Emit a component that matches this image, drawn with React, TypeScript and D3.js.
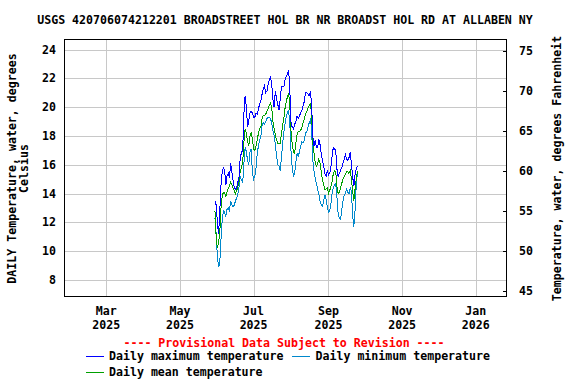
import React from 'react';
import * as d3 from 'd3';

// daily values from 2025-05-30, one per day
const startDay = new Date(2025, 4, 30);
const maxTemp = [
  13.5, 13.2, 12.0, 11.2, 12.8, 14.6, 15.5, 15.8, 15.6, 14.6,
  15.2, 15.4, 15.1, 16.1, 15.5, 14.9, 14.4, 14.3, 14.4, 14.8,
  15.2, 16.6, 16.8, 17.1, 19.6, 20.8, 20.0, 18.6, 19.1, 19.6,
  19.7, 19.6, 19.3, 19.3, 19.6, 19.5, 19.9, 20.2, 20.4, 20.9,
  21.3, 21.5, 21.0, 21.1, 21.6, 21.9, 22.1, 21.6, 20.5, 20.0,
  21.1, 20.6, 20.2, 19.8, 20.5, 21.4, 21.4, 21.4, 21.9, 22.1,
  22.3, 22.6, 21.2, 18.9, 18.6, 18.5, 18.8, 19.0, 19.4, 19.2,
  19.4, 19.6, 19.8, 20.1, 20.4, 21.0, 21.0, 20.9, 20.8, 21.0,
  20.3, 18.0, 17.3, 17.7, 17.2, 17.2, 17.8, 17.4, 16.8, 16.3,
  15.9, 15.4, 15.2, 15.6, 15.3, 15.4, 15.8, 16.6, 17.2, 17.1,
  17.0, 15.7, 15.2, 15.4, 15.6, 15.8, 16.1, 16.4, 16.7, 16.4,
  16.3, 16.5, 16.9, 16.0, 15.2, 14.5, 15.3, 15.7, 15.9,
];
const minTemp = [
  12.3, 11.2, 9.6, 8.9, 9.2, 10.8, 12.2, 12.8, 12.7, 12.4,
  12.9, 13.0, 12.8, 13.5, 13.2, 13.1, 13.2, 13.5, 13.7, 14.0,
  14.5, 15.2, 14.9, 14.8, 16.1, 17.2, 16.9, 16.3, 16.0, 16.9,
  17.1, 15.5, 15.0, 15.2, 15.8, 16.8, 17.3, 17.7, 18.0, 18.7,
  18.9, 18.8, 19.0, 19.2, 19.3, 19.3, 19.2, 18.9, 18.4, 18.0,
  17.4, 16.6, 16.0, 15.9, 15.6, 16.4, 17.5, 18.2, 18.8, 19.3,
  19.6, 19.8, 18.8, 16.9, 15.8, 15.2, 15.4, 16.2, 16.8, 16.6,
  16.9, 17.3, 17.6, 17.5, 17.7, 18.2, 18.3, 18.6, 18.9, 19.1,
  18.6, 16.3, 15.6, 15.1, 14.7, 14.3, 14.0, 13.5, 13.2, 13.1,
  13.5, 13.9, 13.6, 13.1, 12.7, 12.8, 13.3, 14.0, 14.4, 14.6,
  14.7, 13.8, 12.6, 12.3, 12.2, 12.9, 13.5, 13.9, 14.0, 14.3,
  14.1, 14.0, 14.4, 14.2, 12.5, 11.7, 12.8, 14.6, 15.5,
];
const meanTemp = [
  12.8, 11.0, 10.2, 10.6, 11.3, 13.0, 13.8, 14.1, 14.1, 13.8,
  14.1, 14.4, 14.5, 14.8, 14.6, 14.4, 14.2, 14.0, 14.2, 14.5,
  14.8, 15.6, 15.8, 16.2, 17.6, 18.5, 18.2, 17.6, 17.3, 18.0,
  18.2, 17.8, 17.1, 17.0, 17.3, 17.7, 18.2, 18.5, 18.6, 19.2,
  19.4, 19.4, 19.5, 19.7, 19.9, 20.1, 20.3, 20.0, 19.0, 18.5,
  18.1, 17.7, 17.5, 17.5, 17.5, 18.1, 18.7, 19.2, 19.9, 20.4,
  20.7, 21.0, 20.1, 18.3, 17.4, 16.9, 16.8, 17.5, 18.1, 18.3,
  18.3, 18.4, 18.6, 18.9, 19.2, 19.5, 19.7, 19.9, 20.1, 20.3,
  19.5, 17.5, 16.8, 16.2, 15.9, 16.1, 16.4, 16.1, 15.5, 15.0,
  14.6, 14.3, 14.3, 14.4, 14.0, 14.2, 14.5, 14.8, 15.4, 15.6,
  15.5, 14.5, 14.0, 14.1, 14.4, 14.7, 15.0, 15.2, 15.3, 15.5,
  15.5, 15.4, 15.6, 15.0, 14.2, 13.5, 14.3, 15.0, 15.6,
];

const monthTicks = [
  { date: new Date(2025, 2, 1), mon: 'Mar', yr: '2025' },
  { date: new Date(2025, 4, 1), mon: 'May', yr: '2025' },
  { date: new Date(2025, 6, 1), mon: 'Jul', yr: '2025' },
  { date: new Date(2025, 8, 1), mon: 'Sep', yr: '2025' },
  { date: new Date(2025, 10, 1), mon: 'Nov', yr: '2025' },
  { date: new Date(2026, 0, 1), mon: 'Jan', yr: '2026' },
];
const celsiusTicks = [8, 10, 12, 14, 16, 18, 20, 22, 24];
const fahrenheitTicks = [45, 50, 55, 60, 65, 70, 75];

const title = 'USGS 420706074212201 BROADSTREET HOL BR NR BROADST HOL RD AT ALLABEN NY';
const series = [
  { name: 'Daily minimum temperature', values: minTemp, color: '#0088cc' },
  { name: 'Daily mean temperature', values: meanTemp, color: '#00a000' },
  { name: 'Daily maximum temperature', values: maxTemp, color: '#0000ff' },
];

const font = 'DejaVu Sans Mono, monospace';

export default function App() {
  const W = 576, H = 384;
  const left = 64, right = 506, top = 40, bottom = 297;

  const x = d3.scaleTime()
    .domain([new Date(2025, 0, 25), new Date(2026, 0, 26)])
    .range([left, right]);
  const y = d3.scaleLinear().domain([8, 24]).range([280, 49.5]);
  const toC = (f: number) => (f - 32) * 5 / 9;

  const line = (vals: number[]) =>
    d3.line<number>()
      .x((_, i) => x(d3.timeDay.offset(startDay, i)))
      .y(d => y(d))(vals) || '';

  const px = (v: number) => Math.round(v) + 0.5;

  return (
    <svg width={W} height={H} style={{ position: 'absolute', left: 0, top: 0, background: '#fff' }}
      fontFamily={font} fontWeight="bold" fontSize={11.6}>
      <text x={285} y={23.5} textAnchor="middle">{title}</text>

      {/* grid */}
      <g stroke="#c8c8c8" strokeWidth={1} shapeRendering="crispEdges">
        {monthTicks.map(t => (
          <line key={t.mon + t.yr} x1={px(x(t.date))} x2={px(x(t.date))} y1={top} y2={bottom} />
        ))}
        {celsiusTicks.map(c => (
          <line key={c} x1={left} x2={right} y1={px(y(c))} y2={px(y(c))} />
        ))}
      </g>

      {/* data */}
      <g fill="none" strokeWidth={1}>
        {series.map(s => (
          <path key={s.name} d={line(s.values)} stroke={s.color} shapeRendering="crispEdges" />
        ))}
      </g>

      {/* frame */}
      <rect x={left + 0.5} y={top - 0.5} width={right - left} height={bottom - top}
        fill="none" stroke="#000" shapeRendering="crispEdges" />
      <g stroke="#000" shapeRendering="crispEdges">
        {fahrenheitTicks.map(f => (
          <line key={f} x1={right - 3} x2={right} y1={px(y(toC(f)))} y2={px(y(toC(f)))} />
        ))}
      </g>

      {/* left ticks */}
      {celsiusTicks.map(c => (
        <text key={c} x={56} y={y(c)} dy="0.35em" textAnchor="end">{c}</text>
      ))}
      {/* right ticks */}
      {fahrenheitTicks.map(f => (
        <text key={f} x={519} y={y(toC(f))} dy="0.35em">{f}</text>
      ))}
      {/* bottom ticks */}
      {monthTicks.map(t => (
        <g key={t.mon + t.yr}>
          <text x={x(t.date)} y={315} textAnchor="middle">{t.mon}</text>
          <text x={x(t.date)} y={328.5} textAnchor="middle">{t.yr}</text>
        </g>
      ))}

      {/* axis titles */}
      <g transform={`translate(12,168.5) rotate(-90)`}>
        <text textAnchor="middle" dy="0.35em">DAILY Temperature, water, degrees</text>
      </g>
      <g transform={`translate(23.5,168.5) rotate(-90)`}>
        <text textAnchor="middle" dy="0.35em">Celsius</text>
      </g>
      <g transform={`translate(557,168.5) rotate(-90)`}>
        <text textAnchor="middle" dy="0.35em">Temperature, water, degrees Fahrenheit</text>
      </g>

      <text x={284} y={346.5} textAnchor="middle" fill="#ff0000">---- Provisional Data Subject to Revision ----</text>

      {/* legend */}
      <line x1={86} x2={104} y1={356.5} y2={356.5} stroke="#0000ff" />
      <text x={109} y={360}>Daily maximum temperature</text>
      <line x1={292} x2={310} y1={356.5} y2={356.5} stroke="#0088cc" />
      <text x={315.5} y={360}>Daily minimum temperature</text>
      <line x1={86} x2={104} y1={372.5} y2={372.5} stroke="#00a000" />
      <text x={109} y={376}>Daily mean temperature</text>
    </svg>
  );
}
